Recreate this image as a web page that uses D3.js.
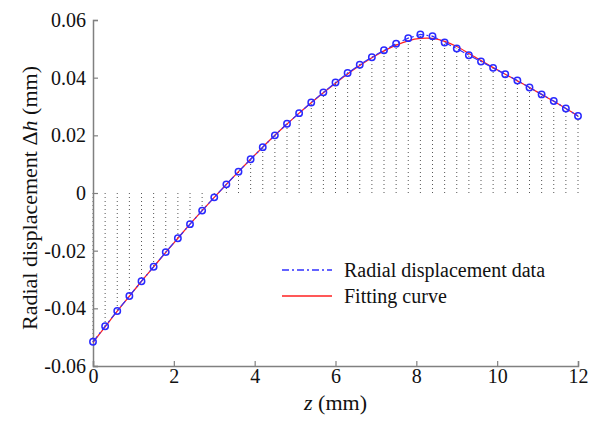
<!DOCTYPE html>
<html>
<head>
<meta charset="utf-8">
<script src="https://cdn.jsdelivr.net/npm/d3@7"></script>
</head>
<body style="margin:0; background:white">
<div id="chart"></div>
<script>
// data (z in mm, displacement in mm)
var zValues = [0, 0.3, 0.6, 0.9, 1.2, 1.5, 1.8, 2.1, 2.4, 2.7, 3.0, 3.3, 3.6, 3.9, 4.2, 4.5, 4.8,
  5.1, 5.4, 5.7, 6.0, 6.3, 6.6, 6.9, 7.2, 7.5, 7.8, 8.1, 8.4, 8.7, 9.0, 9.3, 9.6, 9.9,
  10.2, 10.5, 10.8, 11.1, 11.4, 11.7, 12.0];
var dispData = [-0.0516, -0.0462, -0.0409, -0.0357, -0.0306, -0.0256, -0.0205, -0.0157, -0.0108,
  -0.0061, -0.0015, 0.0030, 0.0074, 0.0117, 0.0159, 0.0200, 0.0240, 0.0277, 0.0314, 0.0349,
  0.0383, 0.0416, 0.0445, 0.0471, 0.0495, 0.0518, 0.0537, 0.0550, 0.0544, 0.0522, 0.0501,
  0.0478, 0.0456, 0.0434, 0.0412, 0.0390, 0.0366, 0.0342, 0.0319, 0.0293, 0.0267];
var fitCurve = [-0.0518, -0.0464, -0.0410, -0.0358, -0.0306, -0.0256, -0.0206, -0.0157, -0.0108,
  -0.0061, -0.0015, 0.0030, 0.0074, 0.0117, 0.0159, 0.0200, 0.0239, 0.0277, 0.0313, 0.0348,
  0.0381, 0.0413, 0.0442, 0.0469, 0.0493, 0.0513, 0.0528, 0.0536, 0.0536, 0.0526, 0.0508,
  0.0484, 0.0459, 0.0435, 0.0412, 0.0389, 0.0366, 0.0342, 0.0318, 0.0293, 0.0267];
var xTicks = [0, 2, 4, 6, 8, 10, 12];
var yTicks = [-0.06, -0.04, -0.02, 0, 0.02, 0.04, 0.06];
var legendLabels = ["Radial displacement data", "Fitting curve"];

var width = 597, height = 421;
var margin = { left: 93, right: 19, top: 20, bottom: 55 };
var serif = "Liberation Serif";

var svg = d3.select("#chart")
  .append("svg")
    .attr("width", width)
    .attr("height", height)
    .style("background", "white");

var x = d3.scaleLinear().domain([0, 12]).range([margin.left, width - margin.right]);
var y = d3.scaleLinear().domain([-0.06, 0.06]).range([height - margin.bottom, margin.top]);

var points = zValues.map(function(z, i) { return { z: z, v: dispData[i], f: fitCurve[i] }; });

// dotted stems from zero to each point
svg.append("g")
  .selectAll("line")
  .data(points)
  .enter()
  .append("line")
    .attr("x1", function(d) { return x(d.z); })
    .attr("x2", function(d) { return x(d.z); })
    .attr("y1", y(0))
    .attr("y2", function(d) { return y(d.v); })
    .attr("stroke", "#555")
    .attr("stroke-width", 1)
    .attr("stroke-dasharray", "1,3");

// axes
var axisColor = "#808080";
var xAxis = svg.append("g")
  .attr("transform", "translate(0," + y(-0.06) + ")")
  .call(d3.axisBottom(x).tickValues(xTicks).tickSize(-5).tickPadding(3).tickFormat(d3.format("d")));
var yAxis = svg.append("g")
  .attr("transform", "translate(" + x(0) + ",0)")
  .call(d3.axisLeft(y).tickValues(yTicks).tickSize(-5).tickPadding(7)
    .tickFormat(function(d) { return d === 0 ? "0" : d.toFixed(2); }));

[xAxis, yAxis].forEach(function(a) {
  a.attr("font-family", serif).attr("font-size", 20);
  a.select(".domain").attr("stroke", axisColor).attr("stroke-width", 1.5);
  a.selectAll(".tick line").attr("stroke", axisColor).attr("stroke-width", 1.2);
  a.selectAll(".tick text").attr("fill", "#111").style("font-family", serif);
});

// fitting curve
svg.append("path")
  .datum(points)
  .attr("fill", "none")
  .attr("stroke", "#ff2020")
  .attr("stroke-width", 1.3)
  .attr("d", d3.line().curve(d3.curveCatmullRom)
    .x(function(d) { return x(d.z); })
    .y(function(d) { return y(d.f); }));

// data line, dash-dot
svg.append("path")
  .datum(points)
  .attr("fill", "none")
  .attr("stroke", "#3030ff")
  .attr("stroke-width", 1.2)
  .attr("stroke-dasharray", "7,3,2,3")
  .attr("d", d3.line()
    .x(function(d) { return x(d.z); })
    .y(function(d) { return y(d.v); }));

svg.append("g")
  .selectAll("circle")
  .data(points)
  .enter()
  .append("circle")
    .attr("cx", function(d) { return x(d.z); })
    .attr("cy", function(d) { return y(d.v); })
    .attr("r", 3.2)
    .attr("fill", "none")
    .attr("stroke", "#2a2aff")
    .attr("stroke-width", 1.5);

// legend
var legend = svg.append("g");
legendLabels.forEach(function(label, i) {
  var ly = 270 + i * 26;
  legend.append("line")
    .attr("x1", 282).attr("x2", 332)
    .attr("y1", ly).attr("y2", ly)
    .attr("stroke", i === 0 ? "#3030ff" : "#ff2020")
    .attr("stroke-width", 1.3)
    .attr("stroke-dasharray", i === 0 ? "7,3,2,3" : null);
  legend.append("text")
    .attr("x", 344)
    .attr("y", ly + 7)
    .style("font-family", serif)
    .attr("font-size", 20)
    .attr("fill", "#111")
    .text(label);
});

// axis titles
var xt = svg.append("text")
  .attr("x", x(6))
  .attr("y", 410)
  .attr("text-anchor", "middle")
  .style("font-family", serif)
  .attr("font-size", 22)
  .attr("fill", "#111");
xt.append("tspan").attr("font-style", "italic").text("z");
xt.append("tspan").text(" (mm)");

var yt = svg.append("text")
  .attr("transform", "translate(37,198) rotate(-90)")
  .attr("text-anchor", "middle")
  .style("font-family", serif)
  .attr("font-size", 22)
  .attr("fill", "#111");
yt.append("tspan").text("Radial displacement \u0394");
yt.append("tspan").attr("font-style", "italic").text("h");
yt.append("tspan").text(" (mm)");
</script>
</body>
</html>
